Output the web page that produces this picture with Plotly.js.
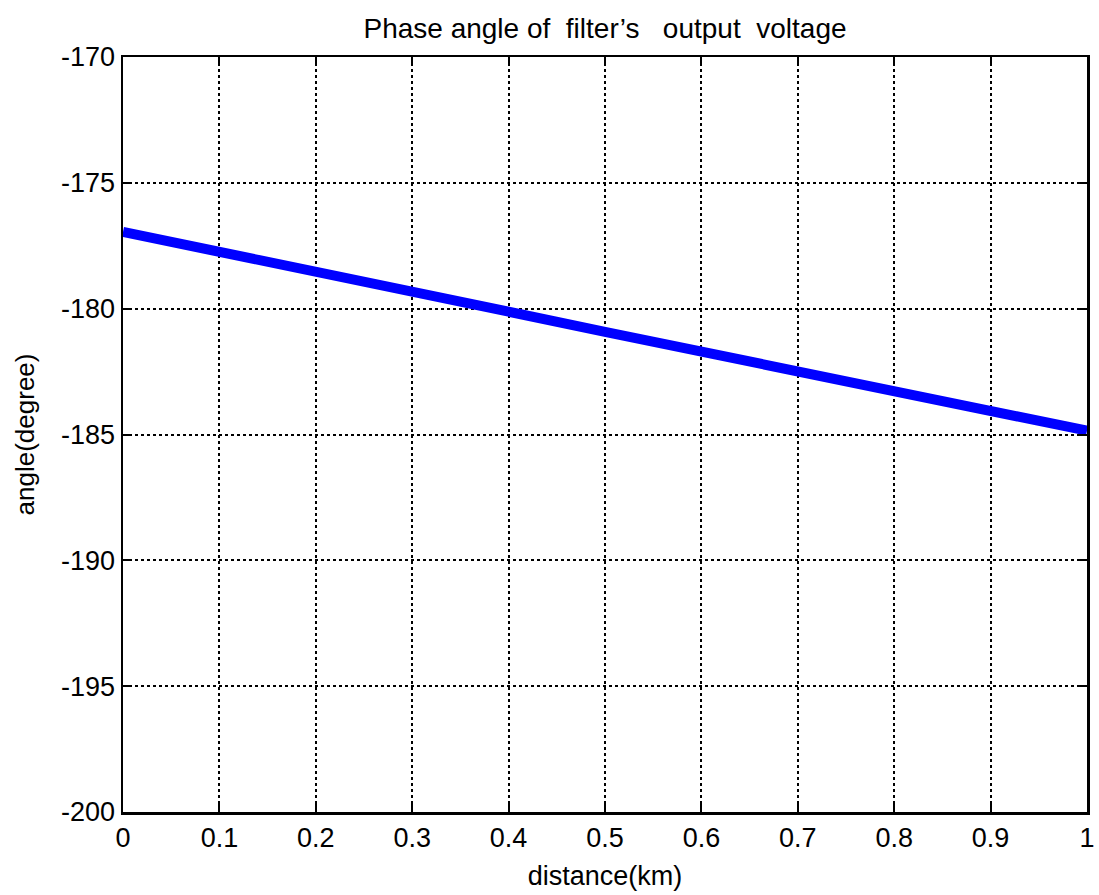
<!DOCTYPE html>
<html>
<head>
<meta charset="utf-8">
<script src="https://cdn.plot.ly/plotly-3.0.1.min.js"></script>
<style>html,body{margin:0;padding:0;background:#fff;}#chart{width:1099px;height:895px;}</style>
</head>
<body>
<div id="chart"></div>
<script>
const distance = [0, 0.1, 0.2, 0.3, 0.4, 0.5, 0.6, 0.7, 0.8, 0.9, 1.0];
const angle = [-176.95, -177.72, -178.52, -179.32, -180.12, -180.92, -181.72, -182.52, -183.3, -184.08, -184.85];
const xTicks = [0, 0.1, 0.2, 0.3, 0.4, 0.5, 0.6, 0.7, 0.8, 0.9, 1];
const xTickText = ["0", "0.1", "0.2", "0.3", "0.4", "0.5", "0.6", "0.7", "0.8", "0.9", "1"];
const yTicks = [-200, -195, -190, -185, -180, -175, -170];
const yTickText = ["-200", "-195", "-190", "-185", "-180", "-175", "-170"];

const trace = {
  x: distance, y: angle, mode: 'lines', type: 'scatter',
  line: {color: '#0000ff', width: 10}, hoverinfo: 'skip', cliponaxis: false
};
const font = {family: 'Liberation Sans, Arial, sans-serif', color: '#000'};
const layout = {
  width: 1099, height: 895,
  margin: {l: 123, r: 12, t: 57, b: 83},
  paper_bgcolor: '#fff', plot_bgcolor: '#fff',
  showlegend: false,
  title: {text: "Phase angle of  filter\u2019s   output  voltage", font: {...font, size: 28}, xref: 'paper', x: 0.5, xanchor: 'center', y: 1 - 28/895, yanchor: 'middle'},
  xaxis: {
    range: [0, 1], tickvals: xTicks, ticktext: xTickText,
    ticks: 'inside', ticklen: 9, tickwidth: 2, tickcolor: '#000',
    showline: true, linecolor: '#000', linewidth: 2.5, mirror: 'allticks',
    showgrid: true, gridcolor: '#000', griddash: 'dot', gridwidth: 2,
    zeroline: false, tickfont: {...font, size: 27},
    title: {text: 'distance(km)', font: {...font, size: 27}, standoff: 14}
  },
  yaxis: {
    range: [-200, -170], tickvals: yTicks, ticktext: yTickText,
    ticks: 'inside', ticklen: 9, tickwidth: 2, tickcolor: '#000',
    showline: true, linecolor: '#000', linewidth: 2.5, mirror: 'allticks',
    showgrid: true, gridcolor: '#000', griddash: 'dot', gridwidth: 2,
    zeroline: false, tickfont: {...font, size: 27},
    title: {text: 'angle(degree)', font: {...font, size: 26}, standoff: 19}
  }
};
Plotly.newPlot('chart', [trace], layout, {displayModeBar: false, staticPlot: true});
</script>
</body>
</html>
